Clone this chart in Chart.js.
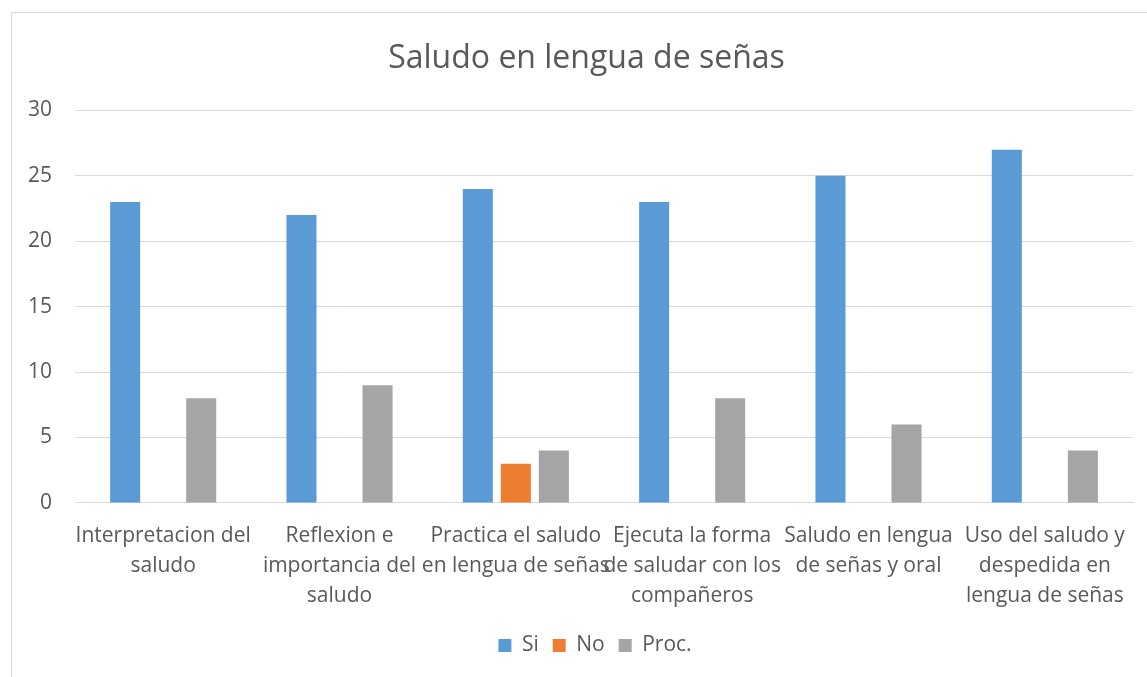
<!DOCTYPE html>
<html>
<head>
    <meta charset="utf-8">
    <title>Saludo en lengua de señas</title>
    <script src="https://cdn.jsdelivr.net/npm/chart.js"></script>
    <style>
        body { margin: 0; background: #fff; font-family: "Open Sans", sans-serif; }
        .frame { position: absolute; left: 11px; top: 12px; width: 1200px; height: 700px; border: 1px solid #d9d9d9; }
        .chart-box { position: absolute; left: 0; top: 0; width: 1147px; height: 677px; }
    </style>
</head>
<body>
    <div class="frame"></div>
    <div class="chart-box">
        <canvas id="saludoChart" width="1147" height="677"></canvas>
    </div>

    <script>
        // Categories (wrapped as in the original)
        const categories = [
            ['Interpretacion del', 'saludo'],
            ['Reflexion e', 'importancia del', 'saludo'],
            ['Practica el saludo', 'en lengua de señas'],
            ['Ejecuta la forma', 'de saludar con los', 'compañeros'],
            ['Saludo en lengua', 'de señas y oral'],
            ['Uso del saludo y', 'despedida en', 'lengua de señas']
        ];
        const siValues = [23, 22, 24, 23, 25, 27];
        const noValues = [null, null, 3, null, null, null];
        const procValues = [8, 9, 4, 8, 6, 4];
        const yTicks = [0, 5, 10, 15, 20, 25, 30];

        const textColor = '#595959';
        const gridColor = '#d9d9d9';
        const fontName = 'Open Sans';

        // the original frame is wider than the picture, so title and legend sit right of centre
        const shiftBlocks = {
            id: 'shiftBlocks',
            afterLayout(chart) {
                chart.titleBlock.left += 35;
                chart.legend.left += 52;
            }
        };

        const ctx = document.getElementById('saludoChart').getContext('2d');
        const chart = new Chart(ctx, {
            type: 'bar',
            data: {
                labels: categories,
                datasets: [
                    { label: 'Si', data: siValues, backgroundColor: '#5b9bd5' },
                    { label: 'No', data: noValues, backgroundColor: '#ed7d31' },
                    { label: 'Proc.', data: procValues, backgroundColor: '#a5a5a5' }
                ]
            },
            options: {
                responsive: false,
                animation: false,
                categoryPercentage: 0.647,
                barPercentage: 0.79,
                layout: { padding: { left: 5, right: 14, top: 0, bottom: 11 } },
                plugins: {
                    title: {
                        display: true,
                        text: 'Saludo en lengua de señas',
                        color: textColor,
                        font: { family: fontName, size: 32, weight: 'normal' },
                        padding: { top: 40, bottom: 32 }
                    },
                    legend: {
                        position: 'bottom',
                        labels: {
                            color: textColor,
                            font: { family: fontName, size: 21 },
                            boxWidth: 13,
                            boxHeight: 13,
                            padding: 14
                        }
                    },
                    tooltip: { enabled: false }
                },
                scales: {
                    x: {
                        grid: { display: false },
                        border: { color: gridColor },
                        ticks: {
                            color: textColor,
                            font: { family: fontName, size: 21, lineHeight: 1.43 },
                            maxRotation: 0,
                            autoSkip: false,
                            padding: 10
                        }
                    },
                    y: {
                        min: 0,
                        max: 30,
                        afterBuildTicks: axis => { axis.ticks = yTicks.map(v => ({ value: v })); },
                        grid: { color: gridColor, drawTicks: false },
                        border: { display: false },
                        ticks: {
                            color: textColor,
                            font: { family: fontName, size: 21 },
                            padding: 23
                        }
                    }
                }
            },
            plugins: [shiftBlocks]
        });
    </script>
</body>
</html>
